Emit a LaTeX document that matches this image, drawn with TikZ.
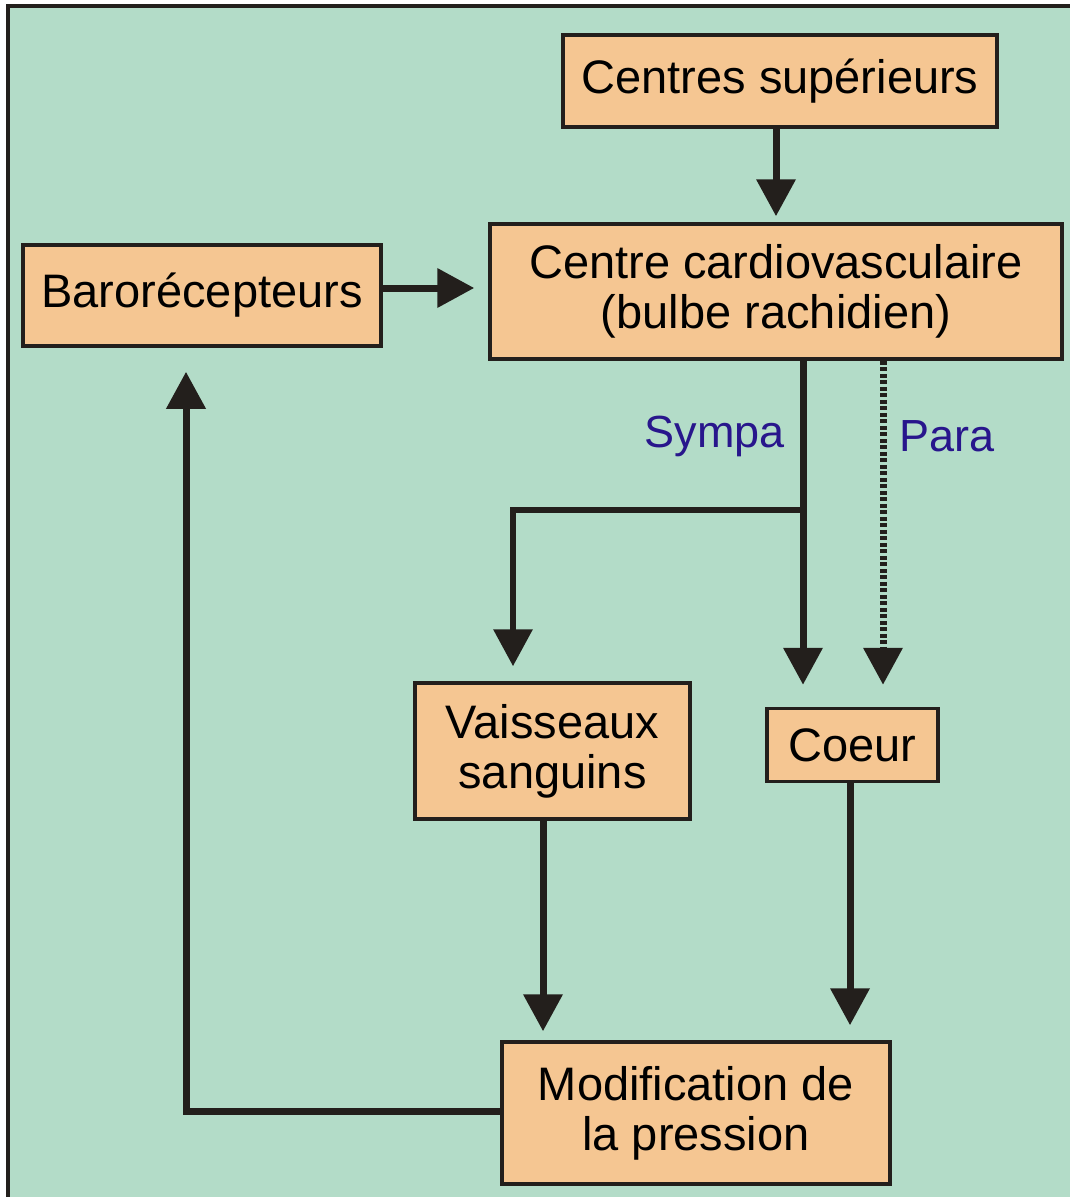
\documentclass[tikz,border=0pt]{standalone}
\usepackage{fontspec}
\setmainfont{Liberation Sans}
\usetikzlibrary{arrows.meta}
\definecolor{bgc}{RGB}{179,220,200}
\definecolor{boxc}{RGB}{245,198,146}
\definecolor{inkc}{RGB}{35,31,28}
\definecolor{labc}{RGB}{40,22,140}
\tikzset{
  box/.style={draw=inkc, fill=boxc, line width=3.5pt, inner sep=0pt, align=center,
    font=\fontsize{47}{50}\selectfont},
  arr/.style={draw=inkc, line width=7pt, -{Triangle[width=38pt,length=37pt]}},
  dotarr/.style={draw=inkc, line width=7pt, dash pattern=on 4pt off 2.5pt, -{Triangle[width=38pt,length=37pt]}},
  lab/.style={text=labc, font=\fontsize{45}{48}\selectfont, inner sep=0pt}
}
\begin{document}
\begin{tikzpicture}[x=1pt,y=-1pt]
\useasboundingbox (0,0) rectangle (1070,1197);
\fill[bgc] (8,6) rectangle (1070,1197);
\draw[inkc, line width=4pt] (8,1197) -- (8,6) -- (1070,6);

\node[box, minimum width=434pt, minimum height=92pt] (cs) at (780,81) {\raisebox{-3pt}{Centres supérieurs}};
\node[box, minimum width=572pt, minimum height=135pt] (cc) at (776,291.5) {Centre cardiovasculaire\\(bulbe rachidien)};
\node[box, minimum width=358pt, minimum height=101pt] (baro) at (202,295.5) {Barorécepteurs};
\node[box, minimum width=275pt, minimum height=136pt] (vs) at (552.5,751) {Vaisseaux\\sanguins};
\node[box, minimum width=171pt, minimum height=73pt] (coeur) at (852.5,745) {Coeur};
\node[box, minimum width=388pt, minimum height=142pt] (modif) at (696,1113) {Modification de\\la pression};

\coordinate (sx) at (803,0);
\coordinate (px) at (883,0);
\coordinate (br) at (803,510);
\coordinate (bx) at (513,0);
\coordinate (vx) at (543,0);
\coordinate (hx) at (850,0);
\coordinate (lx) at (186,1111);
\coordinate (by) at (0,288);

\draw[arr, shorten >=6pt] (cs.south -| cc.north) -- (cc.north);
\draw[arr, shorten >=14pt] (baro.east |- by) -- (cc.west |- by);
\draw[arr, shorten >=22pt] (cc.south -| sx) -- (coeur.north -| sx);
\draw[arr, shorten >=15pt, line width=6.5pt] (br) -| (vs.north -| bx);
\draw[dotarr, shorten >=22pt] (cc.south -| px) -- (coeur.north -| px);
\draw[arr, shorten >=9pt] (vs.south -| vx) -- (modif.north -| vx);
\draw[arr, shorten >=15pt] (coeur.south -| hx) -- (modif.north -| hx);
\draw[arr, shorten >=24pt] (modif.west |- lx) -- (lx) -- (baro.south -| lx);

\node[lab, anchor=east] (sympa) at (785,436) {Sympa};
\node[lab, anchor=west] (para) at (899,436) {Para};
\end{tikzpicture}
\end{document}
